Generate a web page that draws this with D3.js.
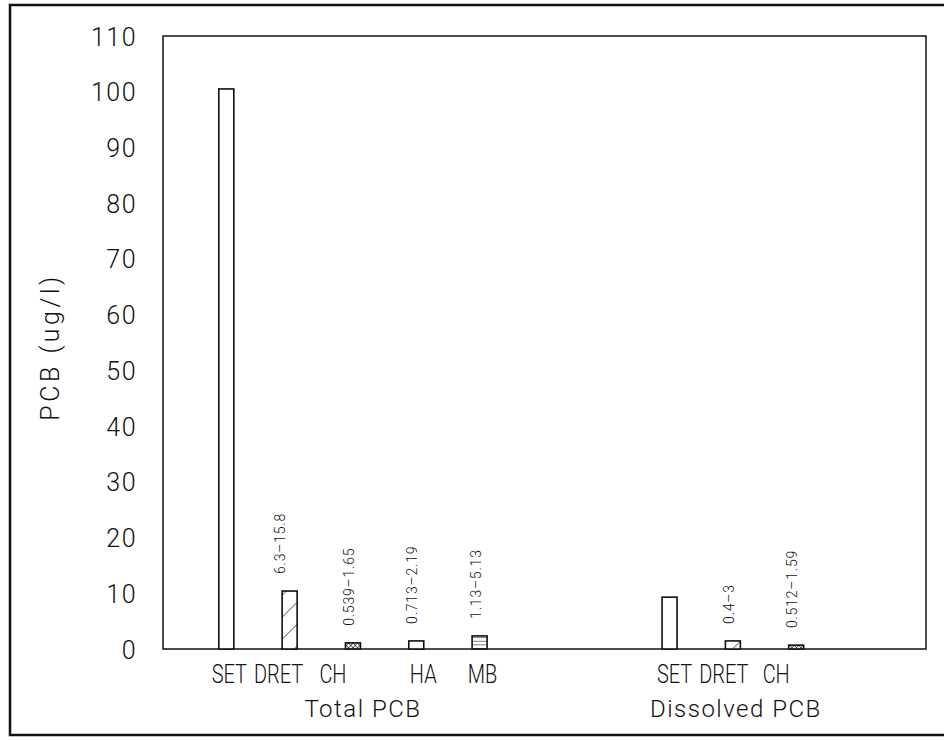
<!DOCTYPE html>
<html>
<head>
<meta charset="utf-8">
<script src="https://cdn.jsdelivr.net/npm/d3@7/dist/d3.min.js"></script>
<style>
  html, body { margin: 0; padding: 0; background: #fff; }
  svg { display: block; }
  text { font-family: Roboto, "Liberation Sans", Arial, sans-serif; font-weight: 300; fill: #111; }
</style>
</head>
<body>
<svg id="chart" width="946" height="740"></svg>
<script>
// PCB concentrations (ug/l) by treatment, total and dissolved fractions
const groups = ["Total PCB", "Dissolved PCB"];
const totalCategories = ["SET", "DRET", "CH", "HA", "MB"];
const totalValues = [100.5, 10.4, 1.1, 1.45, 2.35];
const totalRanges = ["", "6.3\u201315.8", "0.539\u20131.65", "0.713\u20132.19", "1.13\u20135.13"];
const dissolvedCategories = ["SET", "DRET", "CH"];
const dissolvedValues = [9.3, 1.45, 0.7];
const dissolvedRanges = ["", "0.4\u20133", "0.512\u20131.59"];
const yTicks = [0, 10, 20, 30, 40, 50, 60, 70, 80, 90, 100, 110];

// layout
const plot = { left: 163, right: 926, top: 36, bottom: 649 };
const barWidth = 15;
const groupGap = 2;          // empty slots between the two groups
const slotCount = 12.05;
// horizontal nudges of category names under their bars
const nameNudge = { "Total PCB": [3, -11, -20, 7, 3], "Dissolved PCB": [5, -9, -20] };

const svg = d3.select("#chart");

// fill patterns per treatment
const defs = svg.append("defs");
function linePattern(id, spacing, angle, strokeW) {
  const p = defs.append("pattern")
    .attr("id", id).attr("patternUnits", "userSpaceOnUse")
    .attr("width", spacing).attr("height", spacing)
    .attr("patternTransform", `rotate(${angle})`);
  p.append("rect").attr("width", spacing).attr("height", spacing).attr("fill", "#fff");
  p.append("line").attr("x1", 0).attr("y1", 0).attr("x2", 0).attr("y2", spacing)
    .attr("stroke", "#111").attr("stroke-width", strokeW);
}
linePattern("pat-DRET", 15.5, 45, 1.2);
linePattern("pat-HA", 15.5, -45, 1.2);
linePattern("pat-MB", 3.6, 90, 1.1);
(function crossPattern() {
  const s = 3.2;
  const p = defs.append("pattern")
    .attr("id", "pat-CH").attr("patternUnits", "userSpaceOnUse")
    .attr("width", s).attr("height", s)
    .attr("patternTransform", "rotate(45)");
  p.append("rect").attr("width", s).attr("height", s).attr("fill", "#fff");
  p.append("line").attr("x1", 0).attr("y1", 0).attr("x2", 0).attr("y2", s)
    .attr("stroke", "#111").attr("stroke-width", 1.3);
  p.append("line").attr("x1", 0).attr("y1", 0).attr("x2", s).attr("y2", 0)
    .attr("stroke", "#111").attr("stroke-width", 1.3);
})();
const fillFor = c => c === "SET" ? "#fff" : `url(#pat-${c})`;

// outer frame
svg.append("path")
  .attr("d", "M944,5 H10 V735 H944")
  .attr("fill", "none").attr("stroke", "#111").attr("stroke-width", 2.5);

// scales
const x = d3.scaleLinear().domain([0, slotCount]).range([plot.left, plot.right]);
const y = d3.scaleLinear().domain([0, 110]).range([plot.bottom, plot.top]);

// plot box
svg.append("rect")
  .attr("x", plot.left).attr("y", plot.top)
  .attr("width", plot.right - plot.left).attr("height", plot.bottom - plot.top)
  .attr("fill", "none").attr("stroke", "#111").attr("stroke-width", 1.5);

// y axis labels
const yAxis = d3.axisLeft(y).tickValues(yTicks).tickSize(0).tickPadding(26);
const gy = svg.append("g").attr("transform", `translate(${plot.left},0)`).call(yAxis);
gy.select(".domain").remove();
gy.attr("font-family", null).attr("font-size", null);
gy.selectAll("text")
  .style("font-size", "25px").style("letter-spacing", "1.5px")
  .attr("fill", "#111").attr("dy", "0.36em");

svg.append("text")
  .attr("transform", "translate(59,347) rotate(-90)")
  .attr("text-anchor", "middle")
  .style("font-size", "25px").style("letter-spacing", "3.5px")
  .text("PCB (ug/l)");

// assemble groups
const series = [
  { group: groups[0], cats: totalCategories, vals: totalValues, ranges: totalRanges, start: 1, titleShift: 10 },
  { group: groups[1], cats: dissolvedCategories, vals: dissolvedValues, ranges: dissolvedRanges,
    start: 1 + totalCategories.length + groupGap, titleShift: 3 }
];

series.forEach(s => {
  const items = s.cats.map((c, i) => ({
    cat: c, value: s.vals[i], range: s.ranges[i], slot: s.start + i, nudge: nameNudge[s.group][i]
  }));
  const g = svg.append("g");

  g.selectAll("rect.bar").data(items).join("rect")
    .attr("class", "bar")
    .attr("x", d => x(d.slot) - barWidth / 2)
    .attr("y", d => y(d.value))
    .attr("width", barWidth)
    .attr("height", d => y(0) - y(d.value))
    .attr("fill", d => fillFor(d.cat))
    .attr("stroke", "#111").attr("stroke-width", 1.6);

  // range annotations above bars
  g.selectAll("text.range").data(items.filter(d => d.range)).join("text")
    .attr("class", "range")
    .attr("transform", d => `translate(${x(d.slot) + (d.cat === "DRET" && s.group === groups[0] ? -5 : 1)},${y(d.value) - 17}) rotate(-90)`)
    .attr("text-anchor", "start")
    .style("font-size", "14px").style("letter-spacing", "0.8px")
    .text(d => d.range);

  // category names
  g.selectAll("text.cat").data(items).join("text")
    .attr("class", "cat")
    .attr("transform", d => `translate(${x(d.slot) + d.nudge},683) scale(0.8,1)`)
    .attr("text-anchor", "middle")
    .style("font-size", "25px")
    .text(d => d.cat);

  // group title centered under the group
  const mid = (x(s.start) + x(s.start + s.cats.length - 1)) / 2;
  svg.append("text")
    .attr("x", mid + s.titleShift).attr("y", 717)
    .attr("text-anchor", "middle")
    .style("font-size", "24px").style("letter-spacing", "1.5px")
    .text(s.group);
});
</script>
</body>
</html>
